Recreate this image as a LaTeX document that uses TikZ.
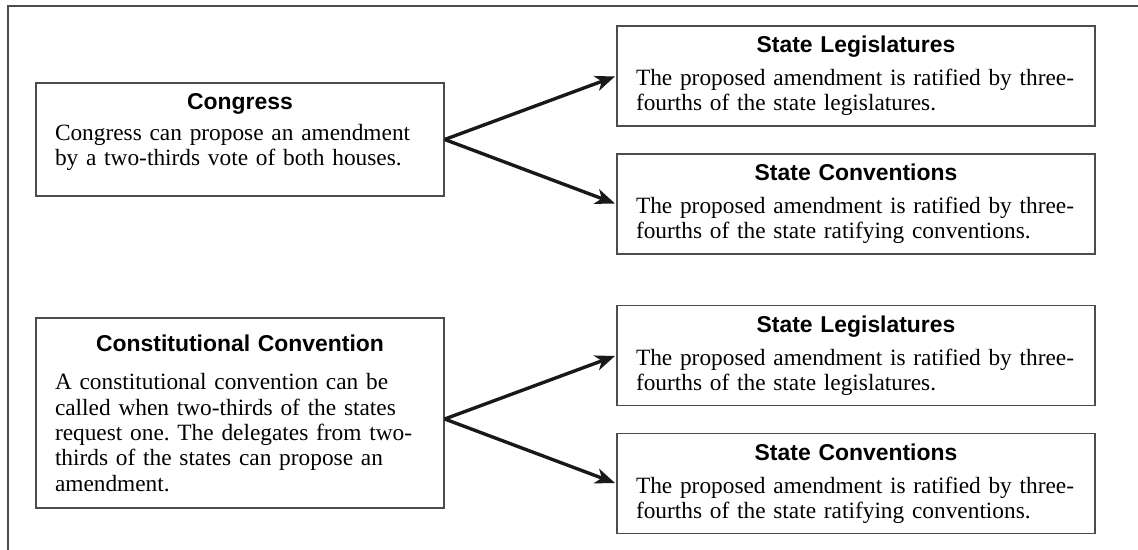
\documentclass[tikz,border=0pt]{standalone}
\usepackage{fontspec}
\setmainfont{Liberation Serif}
\newfontfamily\headfont{Liberation Sans}
\usetikzlibrary{arrows.meta}
\frenchspacing
\newcommand{\boxhead}[1]{\makebox[\linewidth]{\headfont\bfseries\fontsize{16.3}{18}\selectfont #1}}
\begin{document}
\begin{tikzpicture}
		[box/.style={rectangle,draw=black!70,line width=1pt,align=left,inner xsep=0.475cm,inner ysep=0pt,font=\fontsize{16.6}{18}\selectfont},
		leftbox/.style={box,minimum width=10.2cm,text width=9.25cm},
		rightbox/.style={box,minimum width=11.95cm,text width=11cm,minimum height=2.5cm},
		link/.style={->,line width=2.4pt,black!90,shorten >=1pt},
		>={Stealth[length=14pt,width=11pt,inset=4pt]}]
		\useasboundingbox (0,0) rectangle (28.45,-13.75);
		% frame
		\draw[black!70,line width=1.4pt] (28.45,-0.15) -- (0.2,-0.15) -- (0.2,-13.75);
		% proposal
		\node[leftbox,name=congress,minimum height=2.825cm]at(6,-3.4875){\boxhead{Congress}\\[0.12cm]
			Congress can propose an amendment\\
			by a two-thirds vote of both houses.\rule[-0.49cm]{0pt}{0.49cm}};
		\node[leftbox,name=cc,minimum height=4.75cm]at(6,-10.325){\boxhead{Constitutional Convention}\\[0.34cm]
			A constitutional convention can be\\
			called when two-thirds of the states\\
			request one. The delegates from two-\\
			thirds of the states can propose an\\
			amendment.};
		% ratification
		\node[rightbox,name=sl1]at(21.4,-1.9){\boxhead{State Legislatures}\\[0.19cm]
			The proposed amendment is ratified by three-\\
			fourths of the state legislatures.};
		\node[rightbox,name=sc1]at(21.4,-5.1){\boxhead{State Conventions}\\[0.19cm]
			The proposed amendment is ratified by three-\\
			fourths of the state ratifying conventions.};
		\node[rightbox,name=sl2]at(21.4,-8.8875){\boxhead{State Legislatures}\\[0.19cm]
			The proposed amendment is ratified by three-\\
			fourths of the state legislatures.};
		\node[rightbox,name=sc2]at(21.4,-12.0875){\boxhead{State Conventions}\\[0.19cm]
			The proposed amendment is ratified by three-\\
			fourths of the state ratifying conventions.};
		\draw[link] (congress.east) -- (sl1.west);
		\draw[link] (congress.east) -- (sc1.west);
		\draw[link] ([yshift=-0.15cm]cc.east) -- (sl2.west);
		\draw[link] ([yshift=-0.15cm]cc.east) -- (sc2.west);
	\end{tikzpicture}
\end{document}
